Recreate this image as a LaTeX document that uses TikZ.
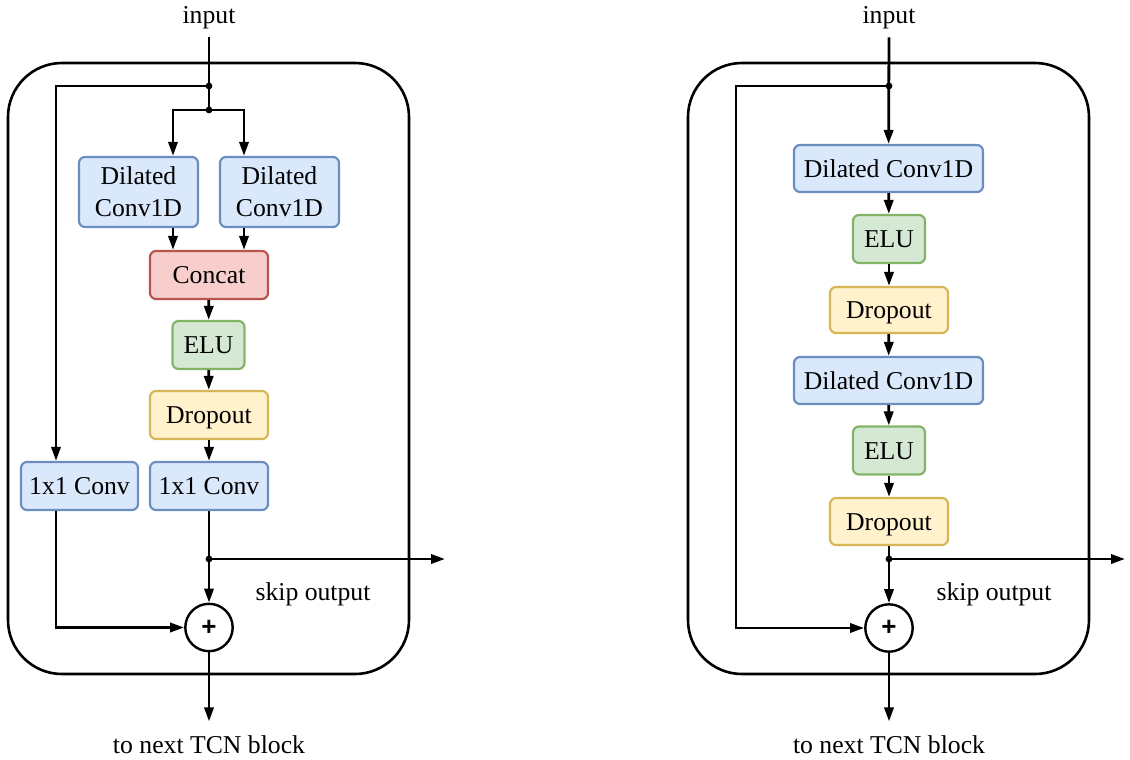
\documentclass[tikz,border=0pt]{standalone}
\usepackage{fontspec}
\setmainfont{Liberation Serif}
\setsansfont{Liberation Sans}
\usetikzlibrary{arrows.meta}

\definecolor{bluefill}{HTML}{DAE8FC}
\definecolor{bluedraw}{HTML}{6C8EBF}
\definecolor{redfill}{HTML}{F8CECC}
\definecolor{reddraw}{HTML}{B85450}
\definecolor{greenfill}{HTML}{D5E8D4}
\definecolor{greendraw}{HTML}{82B366}
\definecolor{yellowfill}{HTML}{FFF2CC}
\definecolor{yellowdraw}{HTML}{D6B656}

\tikzset{every picture/.style={line width=0.75pt}}
\tikzset{
  layer/.style={draw, rounded corners=3pt, line width=1.1pt, align=center,
    inner sep=0pt, minimum height=24pt, text height=8.5pt, text depth=0pt},
  conv/.style={layer, fill=bluefill, draw=bluedraw},
  concat/.style={layer, fill=redfill, draw=reddraw},
  act/.style={layer, fill=greenfill, draw=greendraw, minimum width=36pt},
  drop/.style={layer, fill=yellowfill, draw=yellowdraw, minimum width=59pt},
  adder/.style={draw, circle, line width=1.2pt, minimum size=23.7pt, inner sep=0pt,
    font=\sffamily\bfseries\fontsize{13}{13}\selectfont},
  arr/.style={line width=1.4pt, -{Triangle[length=7pt,width=4.6pt]}},
  wire/.style={line width=1.4pt},
  dot/.style={circle, fill, inner sep=0pt, minimum size=3.4pt},
  block/.style={draw, line width=1.3pt, rounded corners=27pt}
}

\begin{document}
\begin{tikzpicture}[x=0.5pt, y=-0.5pt, font=\fontsize{12.85}{16}\selectfont]
\useasboundingbox (0,0) rectangle (1130,760);

% left block
\draw [block] (8,63) rectangle (409,674);
\node (inL) [anchor=base, inner sep=3.6pt] at (209,24) {input};
\node (dilA) [conv, minimum width=59.5pt, minimum height=35pt, text height=, text depth=] at (138.5,192) {Dilated\\Conv1D};
\node (dilB) [conv, minimum width=59.5pt, minimum height=35pt, text height=, text depth=] at (279.5,192) {Dilated\\Conv1D};
\node (cat) [concat, minimum width=59pt] at (209,275) {Concat};
\node (eluL) [act] at (208.5,345) {ELU};
\node (dropL) [drop] at (209,415) {Dropout};
\node (resL) [conv, minimum width=59pt] at (209,486) {1x1 Conv};
\node (skipL) [conv, minimum width=58.5pt] at (79.5,486) {1x1 Conv};
\node (plusL) [adder] at (209,627.5) {+};
\node (outL) [anchor=base, inner sep=6.5pt] at (209,753) {to next TCN block};
\node (txtL) [anchor=base] at (313,600) {skip output};
\coordinate (jL1) at (209,86);
\coordinate (jL2) at (209,110);
\coordinate (jL3) at (209,559);
\coordinate (endL) at (445,559);

\draw [wire] (inL.south) -- (jL2);
\draw [arr] (jL2) -| ([xshift=17.25pt]dilA.north);
\draw [arr] (jL2) -| ([xshift=-17.75pt]dilB.north);
\draw [arr] ([xshift=17.25pt]dilA.south) -- ([xshift=17.25pt]dilA.south |- cat.north);
\draw [arr] ([xshift=-17.75pt]dilB.south) -- ([xshift=-17.75pt]dilB.south |- cat.north);
\draw [arr] (cat) -- (eluL);
\draw [arr] (eluL) -- (dropL);
\draw [arr] (dropL) -- (resL);
\draw [arr] (jL1) -| ([xshift=-11.75pt]skipL.north);
\draw [arr] ([xshift=-11.75pt]skipL.south) |- (plusL.west);
\draw [arr] (resL) -- (plusL);
\draw [arr] (jL3) -- (endL);
\draw [arr] (plusL) -- (outL);
\node [dot] at (jL1) {};
\node [dot] at (jL2) {};
\node [dot] at (jL3) {};

% right block
\draw [block] (688,63) rectangle (1089,674);
\node (inR) [anchor=base, inner sep=3.6pt] at (889,24) {input};
\node (dilC) [conv, minimum width=94.5pt, minimum height=23.5pt] at (888.5,168.5) {Dilated Conv1D};
\node (eluR) [act] at (889,239) {ELU};
\node (dropR) [drop, minimum height=23pt] at (889,310) {Dropout};
\node (dilD) [conv, minimum width=94.5pt, minimum height=23.5pt] at (888.5,380.5) {Dilated Conv1D};
\node (eluS) [act] at (889,450.5) {ELU};
\node (dropS) [drop, minimum height=23.5pt] at (889,521.5) {Dropout};
\node (plusR) [adder] at (889,628) {+};
\node (outR) [anchor=base, inner sep=6.5pt] at (889,753) {to next TCN block};
\node (txtR) [anchor=base] at (994,600) {skip output};
\coordinate (jR1) at (889,86);
\coordinate (bypR) at (736,86);
\coordinate (jR2) at (889,559);
\coordinate (endR) at (1125,559);

\draw [arr] (inR.south) -- (dilC);
\draw [arr] (dilC) -- (eluR);
\draw [arr] (eluR) -- (dropR);
\draw [arr] (dropR) -- (dilD);
\draw [arr] (dilD) -- (eluS);
\draw [arr] (eluS) -- (dropS);
\draw [arr] (dropS) -- (plusR);
\draw [arr] (jR1) -- (bypR) |- (plusR.west);
\draw [arr] (jR2) -- (endR);
\draw [arr] (plusR) -- (outR);
\node [dot] at (jR1) {};
\node [dot] at (jR2) {};
\end{tikzpicture}
\end{document}
